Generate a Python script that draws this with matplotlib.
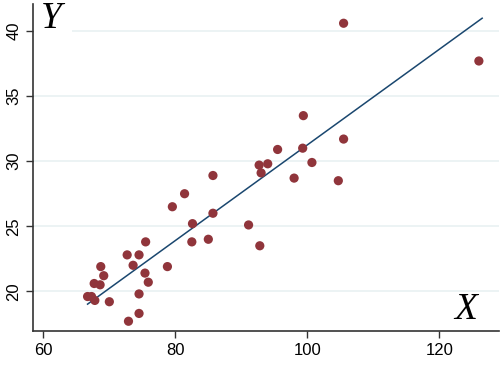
import matplotlib.pyplot as plt
import numpy as np

# scatter values
x_values = [75.5, 72.7, 74.5, 73.6, 78.8, 68.7, 69.15, 75.4, 75.9, 67.7,
            68.6, 66.7, 67.3, 67.8, 70.0, 74.5, 74.5, 72.9, 79.55, 81.4,
            85.7, 85.7, 82.6, 91.1, 82.5, 85.0, 92.8, 92.7, 94.0, 93.0,
            95.5, 99.3, 100.7, 98.0, 104.7, 105.5, 105.5, 126.0, 99.4]
y_values = [23.8, 22.8, 22.8, 22.0, 21.9, 21.9, 21.2, 21.4, 20.7, 20.6,
            20.5, 19.6, 19.6, 19.3, 19.2, 19.8, 18.3, 17.7, 26.5, 27.5,
            28.9, 26.0, 25.2, 25.1, 23.8, 24.0, 23.5, 29.7, 29.8, 29.1,
            30.9, 31.0, 29.9, 28.7, 28.5, 31.7, 40.6, 37.7, 33.5]
x_ticks = [60, 80, 100, 120]
y_ticks = [20, 25, 30, 35, 40]

# fitted line as drawn in the reference
fit_slope = 0.3674
fit_intercept = -5.49

marker_color = "#90353b"
line_color = "#1a476f"
grid_color = "#eaf2f3"

x = np.array(x_values)
y = np.array(y_values)
x_fit = np.array([x.min(), x.max() + 0.5])
y_fit = fit_intercept + fit_slope * x_fit

fig = plt.figure(figsize=(5.01, 3.66), dpi=100)
ax = fig.add_axes([0.066, 0.0956, 0.93, 0.8935])

ax.set_xlim(58.44, 129.05)
ax.set_ylim(16.95, 42.08)

for yt in y_ticks:
    ax.axhline(yt, color=grid_color, linewidth=1.3, zorder=0)

ax.scatter(x, y, s=44, color=marker_color, edgecolors="none", zorder=3)
ax.plot(x_fit, y_fit, color=line_color, linewidth=1.1, zorder=2)

ax.set_xticks(x_ticks)
ax.set_yticks(y_ticks)
ax.tick_params(axis="both", direction="out", length=5, width=1,
               labelsize=12, color="#333333")
plt.setp(ax.get_yticklabels(), rotation=90, va="center")
for lab in ax.get_xticklabels() + ax.get_yticklabels():
    lab.set_family("Liberation Sans")

for side in ["top", "right"]:
    ax.spines[side].set_visible(False)
for side in ["left", "bottom"]:
    ax.spines[side].set_color("#333333")
    ax.spines[side].set_linewidth(1.2)
    ax.spines[side].set_zorder(6)
ax.yaxis.set_zorder(6)

ax.text(0.017, 0.955, "Y", transform=ax.transAxes, family="Liberation Serif",
        style="italic", fontsize=27, ha="left", va="center",
        bbox=dict(facecolor="white", edgecolor="none", pad=7), zorder=4)
ax.text(0.929, 0.064, "X", transform=ax.transAxes, family="Liberation Serif",
        style="italic", fontsize=27, ha="center", va="center", zorder=4)

fig.savefig("out.png", dpi=100)
